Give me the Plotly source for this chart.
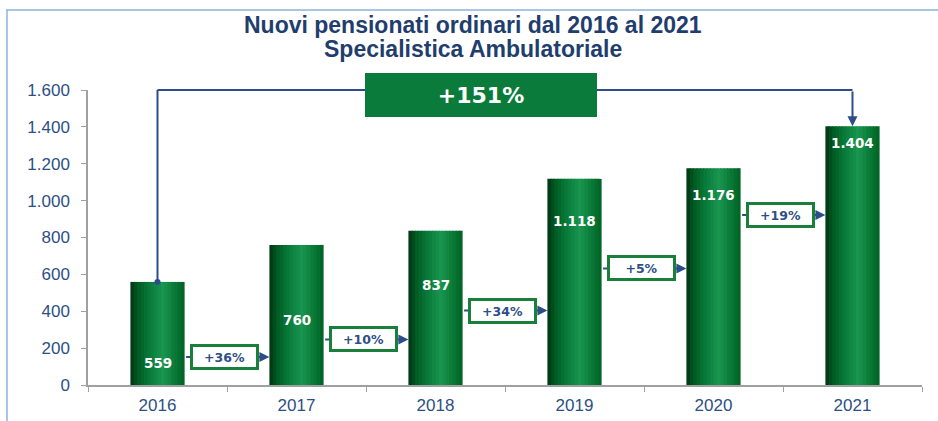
import plotly.graph_objects as go

# ---------------- data ----------------
YEARS = ["2016", "2017", "2018", "2019", "2020", "2021"]
VALUES = [559, 760, 837, 1118, 1176, 1404]
Y_TICKS = [0, 200, 400, 600, 800, 1000, 1200, 1400, 1600]
TITLE_LINES = ["Nuovi pensionati ordinari dal 2016 al 2021", "Specialistica Ambulatoriale"]

# ---------------- layout parameters ----------------
YMAX = 1600
BAR_W = 0.39
LABEL_Y = [122, 355, 545, 892, 1033, 1315]      # vertical position of value labels inside bars
GROWTH_Y = [152, 247, 404, 632, 922]            # vertical position of growth boxes
TITLE_PY = [25, 48.5]                           # pixel centres of the title lines
NAVY = "#2c4d8a"
TXT = "#2d4f85"
GREEN_BORDER = "#1b7f3c"
L, R, T, B = 88, 16, 90, 36
PW, PH = 938 - L - R, 421 - T - B

def px_x(px):
    return (px - L) / PW

def px_y(py):
    return (421 - B - py) / PH

def fmt(v):
    return f"{v:,}".replace(",", ".")

growth = [f"+{round((VALUES[i + 1] / VALUES[i] - 1) * 100)}%" for i in range(len(VALUES) - 1)]
total = f"+{round((VALUES[-1] / VALUES[0] - 1) * 100)}%"

fig = go.Figure()

# gradient bars (vertical strips overlaid)
stops = [(0.0, (0, 52, 18)), (0.15, (0, 92, 36)), (0.35, (8, 122, 57)),
         (0.6, (26, 150, 80)), (0.8, (10, 124, 56)), (1.0, (0, 98, 38))]

def col(t):
    for (t0, c0), (t1, c1) in zip(stops[:-1], stops[1:]):
        if t0 <= t <= t1:
            f = (t - t0) / (t1 - t0)
            return "rgb(%d,%d,%d)" % tuple(round(a + (b - a) * f) for a, b in zip(c0, c1))
    return "rgb(%d,%d,%d)" % stops[-1][1]

N = 16
sw = BAR_W / N
for k in range(N):
    t = (k + 0.5) / N
    w = sw * 1.25 if k < N - 1 else sw
    fig.add_trace(go.Bar(
        x=YEARS, y=VALUES, width=w, offset=-BAR_W / 2 + k * sw,
        marker=dict(color=col(t), line=dict(width=0)),
        hoverinfo="skip", showlegend=False,
    ))

# dot at top of first bar
fig.add_trace(go.Scatter(x=[YEARS[0]], y=[VALUES[0]], mode="markers",
                         marker=dict(color=NAVY, size=6), cliponaxis=False,
                         showlegend=False, hoverinfo="skip"))

shapes = []
# frame
shapes.append(dict(type="line", xref="paper", yref="paper",
                   x0=px_x(7), x1=px_x(7), y0=px_y(10), y1=px_y(430),
                   line=dict(color="#8db3e2", width=1.5)))
shapes.append(dict(type="line", xref="paper", yref="paper",
                   x0=px_x(6), x1=px_x(945), y0=px_y(10), y1=px_y(10),
                   line=dict(color="#8db3e2", width=1.5)))
# bracket
shapes.append(dict(type="line", xref="x", yref="paper", x0=0, x1=0,
                   y0=VALUES[0] / YMAX, y1=1, line=dict(color=NAVY, width=2)))
shapes.append(dict(type="line", xref="x", yref="paper", x0=0, x1=len(YEARS) - 1,
                   y0=1, y1=1, line=dict(color=NAVY, width=2)))

annotations = []
# title
for line, py in zip(TITLE_LINES, TITLE_PY):
    annotations.append(dict(x=px_x(473), y=px_y(py), xref="paper", yref="paper",
                            xanchor="center", yanchor="middle", text=f"<b>{line}</b>",
                            showarrow=False,
                            font=dict(family="Liberation Sans, Arial", size=23, color="#1f3e6e")))
# right arrow of bracket
annotations.append(dict(x=len(YEARS) - 1, y=VALUES[-1], ax=len(YEARS) - 1, ay=YMAX,
                        xref="x", yref="y", axref="x", ayref="y", text="",
                        showarrow=True, arrowhead=2, arrowsize=1.0, arrowwidth=2,
                        arrowcolor=NAVY, standoff=0))
# arrows between bars
for i, gy in enumerate(GROWTH_Y):
    annotations.append(dict(x=i + 1 - BAR_W / 2, y=gy, ax=i + BAR_W / 2, ay=gy,
                            xref="x", yref="y", axref="x", ayref="y", text="",
                            showarrow=True, arrowhead=2, arrowsize=1.0, arrowwidth=2,
                            arrowcolor=NAVY, standoff=0))
# growth boxes
for i, (gy, g) in enumerate(zip(GROWTH_Y, growth)):
    annotations.append(dict(x=i + 0.48, y=gy, xref="x", yref="y", text=f"<b>{g}</b>",
                            xanchor="center", yanchor="middle",
                            showarrow=False, bgcolor="white", bordercolor=GREEN_BORDER,
                            borderwidth=3, borderpad=1, width=61, height=18,
                            font=dict(family="DejaVu Sans", size=12.5, color=TXT)))
# value labels
for i, (ly, v) in enumerate(zip(LABEL_Y, VALUES)):
    annotations.append(dict(x=i, y=ly, xref="x", yref="y", text=f"<b>{fmt(v)}</b>",
                            xanchor="center", yanchor="middle", showarrow=False,
                            font=dict(family="DejaVu Sans", size=13.5, color="white")))
# total box
annotations.append(dict(x=px_x(481), y=px_y(95), xref="paper", yref="paper",
                        xanchor="center", yanchor="middle",
                        text=f"<b>{total}</b>", showarrow=False, bgcolor="#0b7b3b",
                        width=232, height=44, borderpad=0, borderwidth=0,
                        font=dict(family="DejaVu Sans", size=22, color="white")))

fig.update_layout(
    width=938, height=421,
    margin=dict(l=L, r=R, t=T, b=B),
    paper_bgcolor="white", plot_bgcolor="white",
    barmode="overlay", showlegend=False,
    separators=",.",
    xaxis=dict(type="category", range=[-0.5, len(YEARS) - 0.5], tickson="boundaries",
               ticks="outside", ticklen=5, tickcolor="#a0a0a0", automargin=False,
               showline=True, linecolor="#a0a0a0", linewidth=1.5, showgrid=False,
               ticklabelstandoff=4,
               tickfont=dict(family="Liberation Sans, Arial", size=17, color=TXT)),
    yaxis=dict(range=[0, YMAX], tickvals=Y_TICKS, tickformat=",d", automargin=False,
               ticks="outside", ticklen=5, tickcolor="#a0a0a0",
               showline=True, linecolor="#a0a0a0", linewidth=1.5, showgrid=False,
               zeroline=False, ticklabelstandoff=8,
               tickfont=dict(family="Liberation Sans, Arial", size=17, color=TXT)),
    shapes=shapes, annotations=annotations,
)

fig.write_html("out.html", config={"displayModeBar": False},
               post_script="document.body.style.margin='0';document.body.style.overflow='hidden';")
